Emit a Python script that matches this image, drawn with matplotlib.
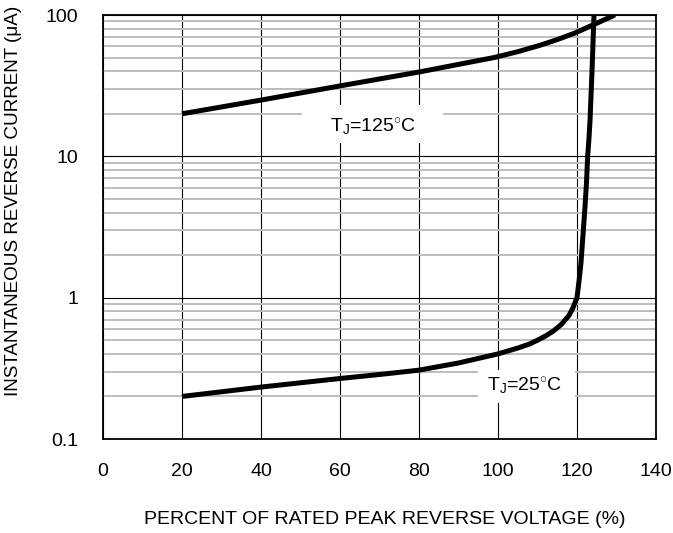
import matplotlib
matplotlib.use("Agg")
import matplotlib.pyplot as plt
from matplotlib.patches import Rectangle
from matplotlib.ticker import FixedLocator, NullFormatter

plt.rcParams['font.family'] = ['Liberation Sans', 'DejaVu Sans']
plt.rcParams['mathtext.fontset'] = 'custom'
plt.rcParams['mathtext.rm'] = 'Liberation Sans'
plt.rcParams['mathtext.it'] = 'Liberation Sans'

# Tj = 125 C curve
x_125 = [20, 40, 60, 80, 99, 105, 110.6, 115, 119.5, 124, 129.6]
y_125 = [20, 25, 31.5, 39.5, 50, 55, 61, 67, 74.6, 85, 100]

# Tj = 25 C curve
x_25 = [20, 40, 60, 70, 80, 90, 100, 105, 108, 110, 112, 114, 116, 118, 119, 120,
        120.5, 121, 121.6, 122, 122.4, 122.7, 123, 123.3, 123.8, 124.3]
y_25 = [0.2, 0.233, 0.268, 0.286, 0.307, 0.345, 0.40, 0.44, 0.47, 0.50, 0.535,
        0.58, 0.645, 0.75, 0.85, 1.0, 1.3, 1.75, 3.0, 4.3, 6.5, 10, 13, 18, 40, 100]

x_ticks = [0, 20, 40, 60, 80, 100, 120, 140]
y_ticks = [0.1, 1, 10, 100]
y_tick_labels = ['0.1', '1', '10', '100']

fig = plt.figure(figsize=(6.73, 5.33), dpi=100)
ax = fig.add_axes([103 / 673, 1 - 439 / 533, 553 / 673, 424 / 533])
ax.set_yscale('log')
ax.set_xlim(0, 140)
ax.set_ylim(0.1, 100)

# minor (gray) and major (black) grid
minor = [m * 10.0 ** e for e in (-1, 0, 1) for m in range(2, 10)]
ax.yaxis.set_minor_locator(FixedLocator(minor))
ax.yaxis.set_minor_formatter(NullFormatter())
ax.grid(True, which='minor', axis='y', color='#bdbdbd', lw=1.4, zorder=1)
ax.grid(True, which='major', color='black', lw=0.8, zorder=1)
ax.set_axisbelow(True)

ax.plot(x_125, y_125, color='black', lw=3.6, solid_joinstyle='round',
        solid_capstyle='butt', zorder=4)
ax.plot(x_25, y_25, color='black', lw=3.6, solid_joinstyle='round',
        solid_capstyle='butt', zorder=4)

# label boxes
ax.add_patch(Rectangle((50.4, 12.4), 35.7, 23.1 - 12.4, facecolor='white',
                       edgecolor='none', zorder=2))
ax.add_patch(Rectangle((94.9, 0.18), 24.6, 0.308 - 0.18, facecolor='white',
                       edgecolor='none', zorder=2))
ax.text(68.4, 16.1, r'T$_{\mathrm{J}}$=125$^{\circ}$C', fontsize=14,
        ha='center', va='center', zorder=3)
ax.text(106.8, 0.236, r'T$_{\mathrm{J}}$=25$^{\circ}$C', fontsize=14,
        ha='center', va='center', zorder=3)

ax.set_xticks(x_ticks)
ax.set_yticks(y_ticks)
ax.set_yticklabels(y_tick_labels)
ax.tick_params(which='both', length=0, labelsize=14)
ax.tick_params(axis='y', pad=18)
ax.tick_params(axis='x', pad=17)
for s in ax.spines.values():
    s.set_linewidth(1.3)
    s.set_zorder(5)

fig.text(384.5 / 673, 1 - 520 / 533, 'PERCENT OF RATED PEAK REVERSE VOLTAGE (%)',
         fontsize=14, ha='center', va='center')
fig.text(14 / 673, 1 - 201 / 533, 'INSTANTANEOUS REVERSE CURRENT (\u03bcA)',
         fontsize=13.6, ha='center', va='center', rotation=90)

fig.savefig('out.png', dpi=100)
